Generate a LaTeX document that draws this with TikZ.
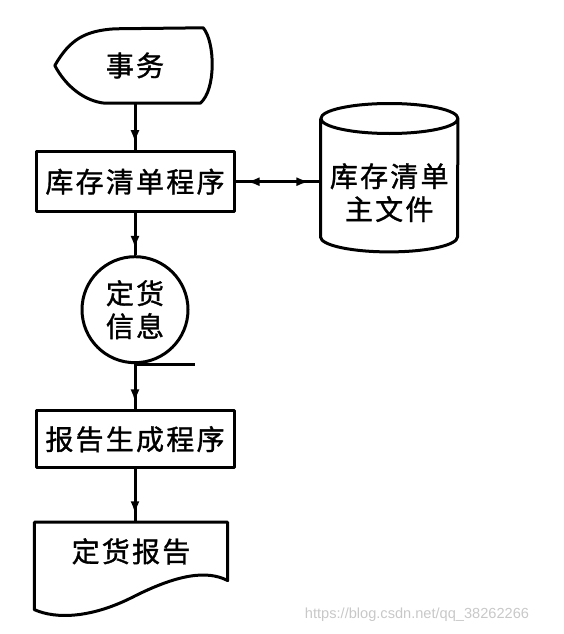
\documentclass[tikz,border=0pt]{standalone}
\usepackage{fontspec}
\newfontfamily\cjk{Noto Sans CJK SC}[LetterSpace=8,FakeBold=1.2]
\newfontfamily\wmfont{Liberation Sans}
\usetikzlibrary{arrows.meta,positioning,calc,decorations.markings}
\newcommand{\FlowFont}{\cjk\fontsize{28}{33}\selectfont}
\definecolor{InkDraw}{RGB}{0,0,0}
\definecolor{MarkText}{RGB}{200,200,200}
\tikzset{
  every node/.style={align=center},
  line cap=round,
  %% base outline
  shp/.style={
    draw=InkDraw,
    line width=3pt,
    line join=round,
  },
  %% flowchart blocks
  txBlk/.style={
    minimum width=160pt, minimum height=75pt,
    inner sep=0pt, font=\FlowFont,
  },
  prgBlk/.style={
    shp, rectangle,
    minimum width=198pt, minimum height=60pt,
    inner sep=0pt, font=\FlowFont,
  },
  cylBlk/.style={
    minimum width=137pt, minimum height=118pt,
    inner sep=0pt, font=\FlowFont,
  },
  tapeBlk/.style={
    shp, circle,
    minimum size=106pt,
    inner sep=0pt, font=\FlowFont,
  },
  docBlk/.style={
    minimum width=193pt, minimum height=58pt,
    inner sep=0pt, font=\FlowFont,
  },
  %% arrows
  flow/.style={
    line width=3pt, InkDraw,
    postaction={decorate},
    decoration={markings,
      mark=at position 0.85 with {\arrow{Latex[length=13pt,width=9pt]}}},
  },
  bflow/.style={
    line width=3pt, InkDraw,
    postaction={decorate},
    decoration={markings,
      mark=at position 0.13 with {\arrowreversed{Latex[length=13pt,width=9pt]}},
      mark=at position 0.87 with {\arrow{Latex[length=13pt,width=9pt]}}},
  },
  wmark/.style={
    font=\wmfont\fontsize{14.6}{16}\selectfont,
    text=MarkText,
  },
}

\begin{document}
\begin{tikzpicture}[x=1pt, y=-1pt, node distance=42pt]

\useasboundingbox (0,0) rectangle (564,634);

%%═══════════════════════════════ MAIN COLUMN ═══════════════════════════════

\node[txBlk] (TX) at (135,65.5) {事务};

\node[prgBlk, below=47pt of TX] (PROG) {库存清单程序};

\node[tapeBlk, below=42pt of PROG] (TAPE) {定货\\信息};

\node[prgBlk, minimum height=57pt, below=45pt of TAPE] (GEN) {报告生成程序};

\node[docBlk, below=53pt of GEN, xshift=-4pt] (RPT) {定货报告};

%% ── Master file (drum) ─────────────────────────────────────────────────
\node[cylBlk, right=85pt of PROG, yshift=-11pt] (CYL) {库存清单\\主文件};

%% ── Outlines ───────────────────────────────────────────────────────────
\draw[shp] (TX.west)
  .. controls ($(TX.west)+(15,-26)$) and ($(TX.north west)+(30,3)$) .. ($(TX.north west)+(60,1)$)
  -- ($(TX.north east)+(-12,0)$)
  .. controls ($(TX.north east)+(0,14)$) and ($(TX.south east)+(1,-13)$) .. ($(TX.south east)+(-15,0)$)
  -- ($(TX.south west)+(50,0)$)
  .. controls ($(TX.south west)+(30,-2)$) and ($(TX.west)+(11,21)$) .. (TX.west) -- cycle;

\draw[shp] ([yshift=15pt]CYL.north west) -- ([yshift=15pt]CYL.south west)
  arc[start angle=180, end angle=360, x radius=68.5pt, y radius=15pt]
  -- ([yshift=15pt]CYL.north east)
  arc[start angle=0, end angle=180, x radius=68.5pt, y radius=15pt]
  arc[start angle=180, end angle=360, x radius=68.5pt, y radius=15pt];

\draw[shp] (TAPE.south) -- ++(60,0);

\draw[shp] (RPT.north west) -- (RPT.north east) -- (RPT.south east)
  .. controls ($(RPT.south east)+(-21,-11)$) and ($(RPT.south east)+(-51,-6)$) .. ($(RPT.south east)+(-96,17)$)
  .. controls ($(RPT.south east)+(-136,37)$) and ($(RPT.south east)+(-171,39)$) .. ($(RPT.south west)+(0,29)$)
  -- cycle;

%% ── Flow arrows ────────────────────────────────────────────────────────
\draw[flow] (TX)   -- (PROG);
\draw[flow] (PROG) -- (TAPE);
\draw[flow] (TAPE) -- (GEN);
\draw[flow] (GEN.south) -- (GEN.south |- RPT.north);
\draw[bflow] (PROG.east) -- (PROG.east -| CYL.west);

%% ── Watermark ──────────────────────────────────────────────────────────
\node[wmark] (WM) at (417,615) {https://blog.csdn.net/qq\_38262266};

\end{tikzpicture}
\end{document}
